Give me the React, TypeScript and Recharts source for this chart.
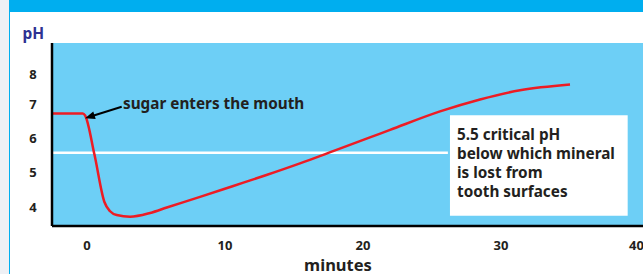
import { ComposedChart, Line, XAxis, YAxis, CartesianGrid, ReferenceLine, ReferenceArea } from 'recharts';

// minutes after sugar enters the mouth, and plaque pH
const minutes = [-2.54, -0.31, -0.14, 0.54, 1.25, 1.67, 2.15, 3.12, 4.57, 5.78, 8.19, 10.6, 13.0, 15.43, 17.83, 20.5, 21.96, 25.58, 28.48, 31.38, 35.0];
const phValues = [6.73, 6.73, 6.67, 5.52, 4.15, 3.87, 3.76, 3.71, 3.82, 3.98, 4.29, 4.61, 4.93, 5.27, 5.63, 6.03, 6.25, 6.79, 7.14, 7.41, 7.58];

const xTicks = [0, 10, 20, 30, 40];
const yTicks = [4, 5, 6, 7, 8];
const criticalPH = 5.58;
const boxLines = ['5.5 critical pH', 'below which mineral', 'is lost from', 'tooth surfaces'];

const data = minutes.map((m, i) => ({ min: m, ph: phValues[i] }));

const FONT = '"Noto Sans", "Open Sans", sans-serif';
const INK = '#231f20';

function PhTick({ y, payload }: any) {
  const nudge = payload.value === 8 ? 4 : 0;
  return (
    <text x={33} y={y + nudge} dy="0.36em" textAnchor="middle" fill={INK}
      fontSize={13} fontWeight={700} fontFamily={FONT}>
      {payload.value}
    </text>
  );
}

export default function App() {
  return (
    <div style={{ position: 'fixed', left: 0, top: 0, width: 643, height: 274, overflow: 'hidden', background: '#eef0f5', fontFamily: FONT }}>
      <div style={{ position: 'absolute', left: 9, top: 0, width: 634, height: 12, background: '#00aeef' }} />
      <div style={{ position: 'absolute', left: 9, top: 12, width: 634, height: 262, background: '#fff', borderLeft: '1.5px solid #00aeef', boxSizing: 'border-box' }} />
      <div style={{ position: 'absolute', left: 0, top: 0 }}>
        <ComposedChart width={643} height={274} data={data} margin={{ top: 43, right: 0, bottom: 0, left: 0 }}>
          <CartesianGrid fill="#6dcff6" stroke="none" horizontal={false} vertical={false} />
          <XAxis
            dataKey="min" type="number" domain={[-2.54, 40.29]} ticks={xTicks}
            allowDataOverflow height={48}
            axisLine={{ stroke: '#000', strokeWidth: 2.5 }}
            tickLine={false} tickSize={0} tickMargin={15}
            tick={{ fill: INK, fontSize: 13, fontWeight: 700, fontFamily: FONT }}
          />
          <YAxis
            type="number" domain={[3.44, 8.79]} ticks={yTicks}
            allowDataOverflow width={52}
            axisLine={{ stroke: '#000', strokeWidth: 2.5 }}
            tickLine={false} tick={<PhTick />}
          />
          <ReferenceArea x1={26.3} x2={39.18} y1={3.74} y2={6.68} fill="#fff" fillOpacity={1} stroke="none" ifOverflow="visible" />
          <ReferenceLine
            segment={[{ x: -2.54, y: criticalPH }, { x: 26.15, y: criticalPH }]}
            stroke="#fff" strokeWidth={2.5} ifOverflow="visible"
          />
          <Line dataKey="ph" type="monotone" stroke="#ed1c24" strokeWidth={2.5} dot={false} isAnimationActive={false} />
        </ComposedChart>
      </div>
      <svg width={643} height={274} style={{ position: 'absolute', left: 0, top: 0, pointerEvents: 'none' }}>
        <text x={22.5} y={39} fill="#2e3192" fontSize={15.5} fontWeight={700} fontFamily={FONT}>pH</text>
        <line x1={121.7} y1={106.7} x2={93} y2={115.7} stroke="#000" strokeWidth={2} />
        <polygon points="85,118.3 95.7,119.1 93.3,111.5" fill="#000" />
        <text x={123} y={108.5} fill={INK} fontSize={15.3} fontWeight={700} fontFamily={FONT}>sugar enters the mouth</text>
        {boxLines.map((t, i) => (
          <text key={t} x={457} y={139.5 + i * 19} fill={INK} fontSize={15.3} fontWeight={700} fontFamily={FONT}>{t}</text>
        ))}
        <text x={338} y={270.5} textAnchor="middle" fill={INK} fontSize={16.5} fontWeight={700} fontFamily={FONT}>minutes</text>
      </svg>
    </div>
  );
}
